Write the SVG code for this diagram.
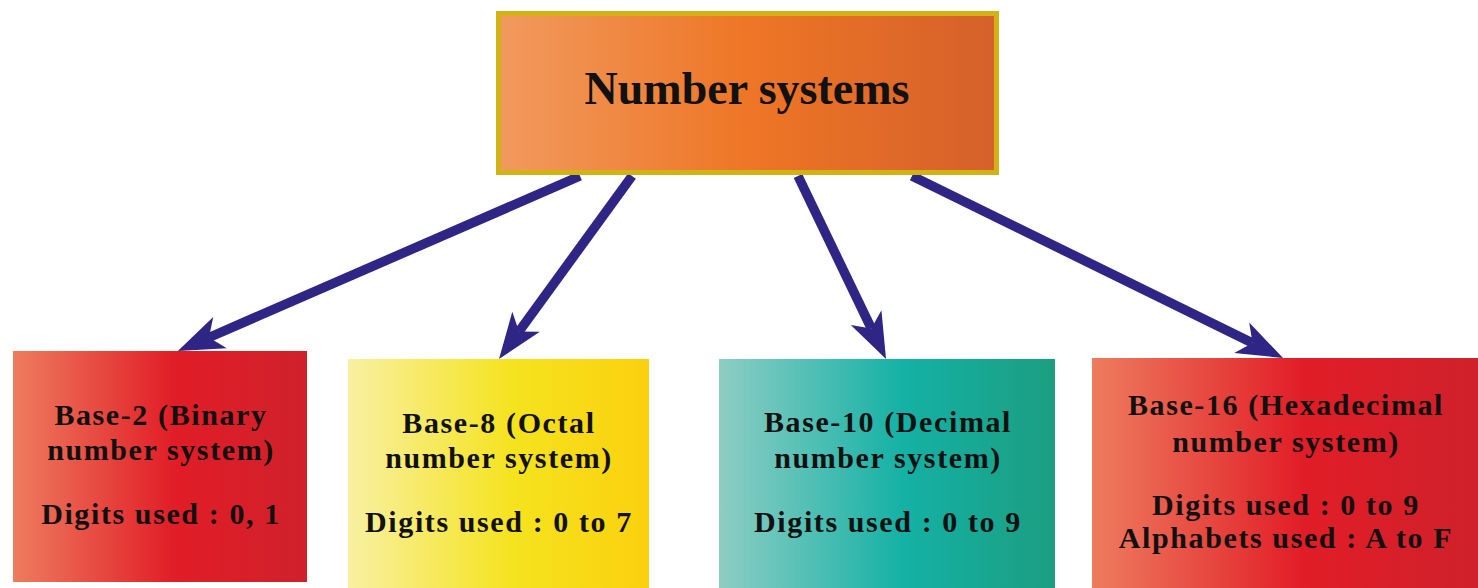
<svg xmlns="http://www.w3.org/2000/svg" width="1478" height="588" viewBox="0 0 1478 588">
  <defs>
    <linearGradient id="gOrange" x1="0" y1="0" x2="1" y2="0">
      <stop offset="0" stop-color="#f19a5e"/>
      <stop offset="0.5" stop-color="#ee7626"/>
      <stop offset="1" stop-color="#d5602a"/>
    </linearGradient>
    <linearGradient id="gRed" x1="0" y1="0" x2="1" y2="0">
      <stop offset="0" stop-color="#ee7c5e"/>
      <stop offset="0.55" stop-color="#e11d27"/>
      <stop offset="1" stop-color="#cf212b"/>
    </linearGradient>
    <linearGradient id="gYellow" x1="0" y1="0" x2="1" y2="0">
      <stop offset="0" stop-color="#f8f0a2"/>
      <stop offset="0.55" stop-color="#f5e31e"/>
      <stop offset="1" stop-color="#fbd00e"/>
    </linearGradient>
    <linearGradient id="gTeal" x1="0" y1="0" x2="1" y2="0">
      <stop offset="0" stop-color="#8ecdc4"/>
      <stop offset="0.55" stop-color="#14b1a5"/>
      <stop offset="1" stop-color="#1c9e80"/>
    </linearGradient>
    <marker id="head" markerUnits="userSpaceOnUse" markerWidth="64" markerHeight="44" viewBox="-16 -22 64 44" refX="0" refY="0" orient="auto">
      <path d="M0,0 L-12,-17 L34,0 L-12,17 Z" fill="#2e2585"/>
    </marker>
    <style>
      .t { font-family: "Liberation Serif", "Times New Roman", serif; font-weight: bold; fill: #111; text-anchor: middle; }
      .title { font-size: 46px; }
      .lbl { font-size: 30px; letter-spacing: 1.6px; }
      .edge { stroke: #2e2585; stroke-width: 9.5; fill: none; marker-end: url(#head); }
    </style>
  </defs>

  <rect width="1478" height="588" fill="#ffffff"/>

  <g id="connectors">
    <line class="edge" x1="580" y1="176" x2="209" y2="337.5"/>
    <line class="edge" x1="632" y1="176" x2="519" y2="331.5"/>
    <line class="edge" x1="798" y1="176" x2="871.3" y2="328.4"/>
    <line class="edge" x1="912" y1="176" x2="1252.5" y2="343"/>
  </g>

  <g id="root">
    <rect x="498.5" y="13.5" width="498" height="159" fill="url(#gOrange)" stroke="#d2b215" stroke-width="5"/>
    <text class="t title" x="747" y="104">Number systems</text>
  </g>

  <g id="binary">
    <rect x="13" y="351" width="294" height="231" fill="url(#gRed)"/>
    <text class="t lbl" x="161" y="425">Base-2 (Binary</text>
    <text class="t lbl" x="161" y="460">number system)</text>
    <text class="t lbl" x="161" y="524">Digits used : 0, 1</text>
  </g>

  <g id="octal">
    <rect x="348" y="359" width="301" height="229" fill="url(#gYellow)"/>
    <text class="t lbl" x="499" y="433">Base-8 (Octal</text>
    <text class="t lbl" x="499" y="468">number system)</text>
    <text class="t lbl" x="499" y="532">Digits used : 0 to 7</text>
  </g>

  <g id="decimal">
    <rect x="719" y="359" width="336" height="229" fill="url(#gTeal)"/>
    <text class="t lbl" x="888" y="432">Base-10 (Decimal</text>
    <text class="t lbl" x="888" y="468">number system)</text>
    <text class="t lbl" x="888" y="532">Digits used : 0 to 9</text>
  </g>

  <g id="hexadecimal">
    <rect x="1092" y="358" width="386" height="230" fill="url(#gRed)"/>
    <text class="t lbl" x="1286" y="415">Base-16 (Hexadecimal</text>
    <text class="t lbl" x="1286" y="452">number system)</text>
    <text class="t lbl" x="1286" y="515">Digits used : 0 to 9</text>
    <text class="t lbl" x="1286" y="548">Alphabets used : A to F</text>
  </g>
</svg>
